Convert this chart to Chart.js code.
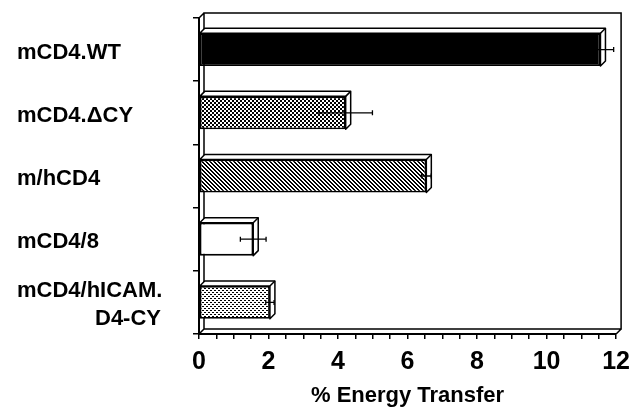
<!DOCTYPE html>
<html>
<head>
<meta charset="utf-8">
<script src="https://cdn.jsdelivr.net/npm/chart.js@4.4.1/dist/chart.umd.min.js"></script>
<style>
  html, body { margin: 0; padding: 0; background: #fff; }
  canvas { display: block; }
</style>
</head>
<body>
<canvas id="chart" width="638" height="413"></canvas>
<script>
// Constructs and their FRET efficiency
const categories = ['mCD4.WT', 'mCD4.\u0394CY', 'm/hCD4', 'mCD4/8', ['mCD4/hICAM.', 'D4-CY']];
const energyTransfer = [11.55, 4.22, 6.54, 1.56, 2.04];
const errorValues = [0.38, 0.77, 0.14, 0.37, 0.12];
const xTickLabels = [0, 2, 4, 6, 8, 10, 12];

const FONT = '"Liberation Sans", Arial, Helvetica, sans-serif';
Chart.defaults.font.family = FONT;
Chart.defaults.color = '#000';

// Monochrome fill patterns
function makePattern(size, draw) {
  const c = document.createElement('canvas');
  c.width = size; c.height = size;
  const g = c.getContext('2d');
  g.fillStyle = '#fff';
  g.fillRect(0, 0, size, size);
  g.fillStyle = '#000';
  draw(g);
  return g.createPattern(c, 'repeat');
}
const checker = makePattern(4, g => { g.fillRect(0, 0, 2, 2); g.fillRect(2, 2, 2, 2); });
const hatch = makePattern(4, g => { for (let i = 0; i < 4; i++) g.fillRect(i, i, 1, 1); for (let i = 0; i < 3; i++) g.fillRect(i + 1, i, 1, 1); g.fillRect(0, 3, 1, 1); });
const dots = makePattern(4, g => { g.fillRect(0, 0, 1, 1); g.fillRect(2, 2, 1, 1); g.fillRect(1, 0, 1, 1); g.fillRect(3, 2, 1, 1); });
const fills = ['#000', checker, hatch, '#fff', dots];

const DEPTH = 5;

// Back wall and floor of the 3D frame
const framePlugin = {
  id: 'frame',
  beforeDatasetsDraw(chart) {
    const { ctx, chartArea: a } = chart;
    const d = DEPTH;
    ctx.save();
    ctx.strokeStyle = '#000';
    ctx.lineWidth = 1.5;
    ctx.beginPath();
    ctx.moveTo(a.left + d, a.bottom - d);
    ctx.lineTo(a.left + d, a.top - d);
    ctx.lineTo(a.right + d, a.top - d);
    ctx.lineTo(a.right + d, a.bottom - d);
    ctx.lineTo(a.left + d, a.bottom - d);
    ctx.moveTo(a.left, a.top);
    ctx.lineTo(a.left + d, a.top - d);
    ctx.moveTo(a.left, a.bottom);
    ctx.lineTo(a.left + d, a.bottom - d);
    ctx.moveTo(a.right, a.bottom);
    ctx.lineTo(a.right + d, a.bottom - d);
    ctx.stroke();
    ctx.restore();
  }
};

// Top/side faces of the bars, error bars, and category labels
const barDecor = {
  id: 'barDecor',
  afterDatasetsDraw(chart) {
    const { ctx } = chart;
    const meta = chart.getDatasetMeta(0);
    const xs = chart.scales.x;
    const d = DEPTH;
    ctx.save();
    ctx.strokeStyle = '#000';
    ctx.lineWidth = 1.5;
    ctx.lineJoin = 'round';
    meta.data.forEach((bar, i) => {
      const p = bar.getProps(['x', 'y', 'base', 'height'], true);
      const top = p.y - p.height / 2;
      const bottom = p.y + p.height / 2;
      ctx.fillStyle = '#fff';
      ctx.beginPath();
      ctx.moveTo(p.base, top);
      ctx.lineTo(p.base + d, top - d);
      ctx.lineTo(p.x + d, top - d);
      ctx.lineTo(p.x + d, bottom - d);
      ctx.lineTo(p.x, bottom);
      ctx.lineTo(p.x, top);
      ctx.closePath();
      ctx.fill();
      ctx.stroke();
      ctx.beginPath();
      ctx.moveTo(p.x, top);
      ctx.lineTo(p.x + d, top - d);
      ctx.stroke();

      // error bar
      const lo = xs.getPixelForValue(energyTransfer[i] - errorValues[i]);
      const hi = xs.getPixelForValue(energyTransfer[i] + errorValues[i]);
      ctx.lineWidth = 1.3;
      ctx.beginPath();
      ctx.moveTo(lo, p.y); ctx.lineTo(hi, p.y);
      ctx.moveTo(lo, p.y - 2.5); ctx.lineTo(lo, p.y + 2.5);
      ctx.moveTo(hi, p.y - 2.5); ctx.lineTo(hi, p.y + 2.5);
      ctx.stroke();
      ctx.lineWidth = 1.5;
    });
    ctx.restore();
  },
  afterDraw(chart) {
    const { ctx } = chart;
    const ys = chart.scales.y;
    ctx.save();
    ctx.fillStyle = '#000';
    ctx.font = 'bold 22px ' + FONT;
    ctx.textBaseline = 'middle';
    const lineH = 28;
    categories.forEach((c, i) => {
      const lines = Array.isArray(c) ? c : [c];
      const cy = ys.getPixelForValue(i) + 3;
      const y0 = cy - (lines.length - 1) * lineH / 2;
      lines.forEach((t, k) => {
        if (k === 0) { ctx.textAlign = 'left'; ctx.fillText(t, 17, y0); }
        else { ctx.textAlign = 'right'; ctx.fillText(t, 161, y0 + k * lineH); }
      });
    });
    ctx.restore();
  }
};

new Chart(document.getElementById('chart'), {
  type: 'bar',
  data: {
    labels: categories,
    datasets: [{
      data: energyTransfer,
      backgroundColor: fills,
      borderColor: '#000',
      borderWidth: 1.8,
      borderSkipped: false,
      barPercentage: 0.52,
      categoryPercentage: 1
    }]
  },
  plugins: [framePlugin, barDecor],
  options: {
    indexAxis: 'y',
    responsive: false,
    animation: false,
    layout: { padding: { left: 0, right: 15, top: 18, bottom: 0 } },
    plugins: { legend: { display: false }, tooltip: { enabled: false } },
    scales: {
      x: {
        min: 0,
        max: 12,
        afterFit(s) { s.height = 79; },
        ticks: {
          stepSize: 0.5,
          autoSkip: false,
          maxRotation: 0,
          padding: 8,
          font: { size: 25, weight: 'bold' },
          color: '#000',
          callback: v => (xTickLabels.includes(v) ? String(v) : '')
        },
        grid: { drawOnChartArea: false, tickLength: 5, color: '#000', lineWidth: 1.5 },
        border: { display: true, color: '#000', width: 2 },
        title: {
          display: true,
          text: '% Energy Transfer',
          font: { size: 22, weight: 'bold' },
          color: '#000',
          padding: { top: 0, bottom: 4 }
        }
      },
      y: {
        afterFit(s) { s.width = 199; },
        ticks: { display: false },
        grid: { drawOnChartArea: false, offset: true, tickLength: 6, color: '#000', lineWidth: 1.5 },
        border: { display: true, color: '#000', width: 2 }
      }
    }
  }
});
</script>
</body>
</html>
